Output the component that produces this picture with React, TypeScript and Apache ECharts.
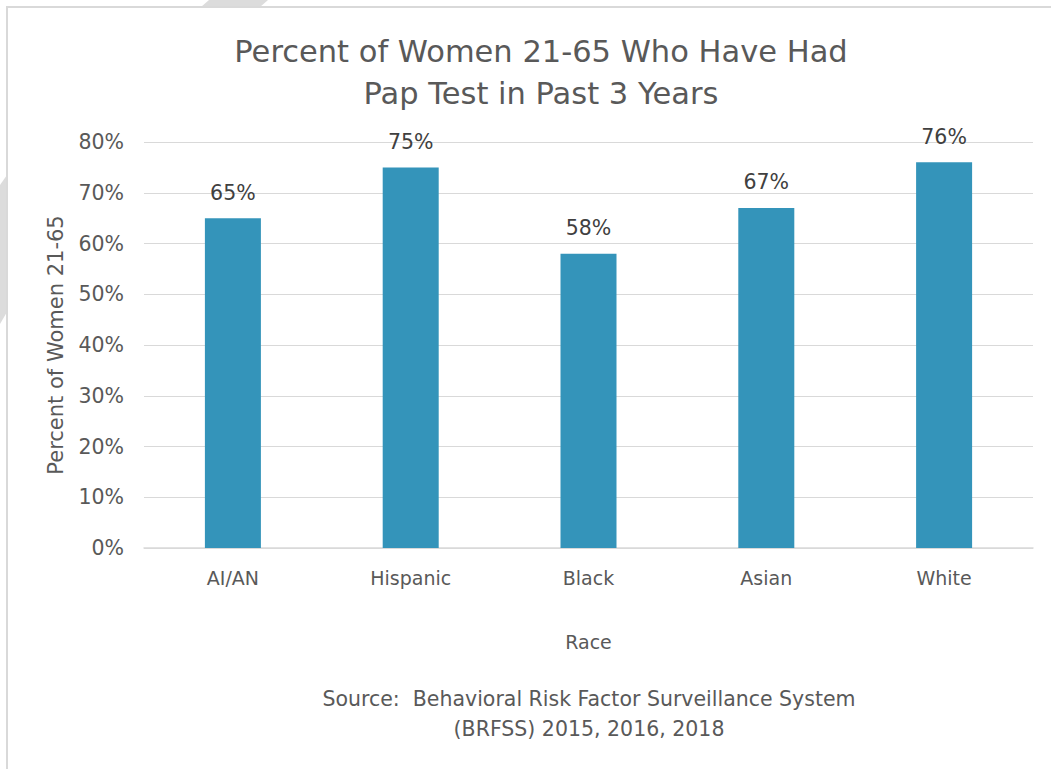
import React, { useEffect, useRef } from "react";
import * as echarts from "echarts";

const categories = ["AI/AN", "Hispanic", "Black", "Asian", "White"];
const values = [65, 75, 58, 67, 76];
const titleLines = ["Percent of Women 21-65 Who Have Had", "Pap Test in Past 3 Years"];
const yAxisName = "Percent of Women 21-65";
const xAxisName = "Race";
const sourceLines = ["Source:  Behavioral Risk Factor Surveillance System", "(BRFSS) 2015, 2016, 2018"];

const FONT = "DejaVu Sans";
const TXT = "#595959";

export default function App() {
  const ref = useRef<HTMLDivElement>(null);
  useEffect(() => {
    const chart = echarts.init(ref.current!, null, { renderer: "svg" });
    chart.setOption({
      animation: false,
      backgroundColor: "#ffffff",
      textStyle: { fontFamily: FONT, color: TXT },
      title: {
        text: titleLines.join("\n"),
        left: 536,
        top: 25,
        textAlign: "center",
        textStyle: { fontFamily: FONT, fontSize: 30.5, fontWeight: "normal", color: TXT, lineHeight: 42 },
      },
      grid: { left: 144, right: 18, top: 142, bottom: 221, containLabel: false },
      xAxis: {
        type: "category",
        data: categories,
        name: xAxisName,
        nameLocation: "middle",
        nameGap: 84,
        nameTextStyle: { fontFamily: FONT, fontSize: 19, color: TXT },
        axisLine: { lineStyle: { color: "#d9d9d9", width: 1.5 } },
        axisTick: { show: false },
        axisLabel: { fontFamily: FONT, fontSize: 19, color: TXT, margin: 20 },
      },
      yAxis: {
        type: "value",
        min: 0,
        max: 80,
        interval: 10,
        name: yAxisName,
        nameLocation: "middle",
        nameGap: 78,
        nameRotate: 90,
        nameTextStyle: { fontFamily: FONT, fontSize: 21, color: TXT },
        axisLine: { show: false },
        axisTick: { show: false },
        splitLine: { lineStyle: { color: "#d9d9d9", width: 1 } },
        axisLabel: { fontFamily: FONT, fontSize: 20.5, color: TXT, margin: 20, formatter: (v: number) => v + "%" },
      },
      series: [
        {
          type: "bar",
          data: values,
          barWidth: "31.5%",
          itemStyle: { color: "#3494ba" },
          label: {
            show: true,
            position: "top",
            distance: 15,
            fontFamily: FONT,
            fontSize: 20.5,
            color: "#404040",
            formatter: (p: any) => p.value + "%",
          },
        },
      ],
      graphic: [
        {
          type: "polygon",
          silent: true,
          shape: { points: [[209, 0], [268, 0], [260, 7], [201, 7]] },
          style: { fill: "#dcdcdc" },
        },
        {
          type: "polygon",
          silent: true,
          shape: { points: [[0, 185], [7, 175], [7, 312], [0, 324]] },
          style: { fill: "#dcdcdc" },
        },
        {
          type: "rect",
          silent: true,
          shape: { x: 7, y: 7, width: 1200, height: 900 },
          style: { fill: "none", stroke: "#d9d9d9", lineWidth: 2 },
        },
        {
          type: "text",
          x: 589,
          y: 684,
          silent: true,
          style: {
            text: sourceLines.join("\n"),
            fontFamily: FONT,
            fontSize: 20.5,
            fill: TXT,
            align: "center",
            verticalAlign: "top",
            lineHeight: 30,
          },
        },
      ],
    });
    return () => chart.dispose();
  }, []);
  return <div ref={ref} style={{ position: "absolute", left: 0, top: 0, width: 1051, height: 769 }} />;
}
